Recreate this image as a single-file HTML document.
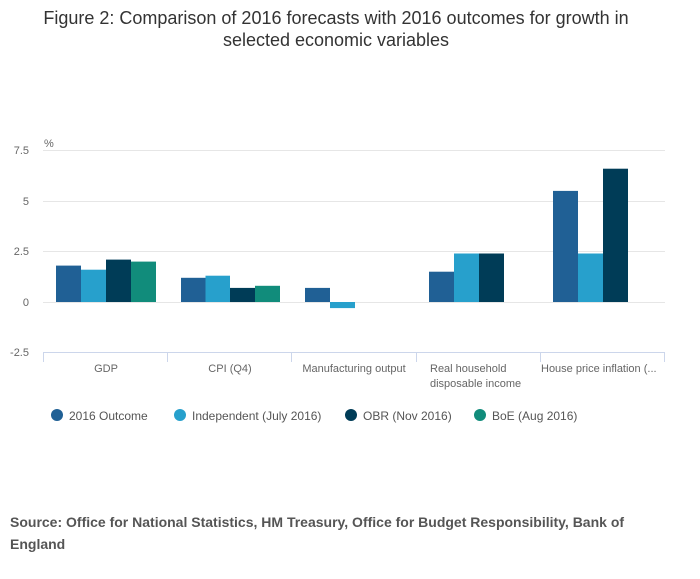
<!DOCTYPE html>
<html><head><meta charset="utf-8"><style>
body{margin:0;background:#fff;width:700px;height:574px;overflow:hidden;font-family:"Liberation Sans","DejaVu Sans",sans-serif;}
</style></head><body>
<svg width="700" height="574" xmlns="http://www.w3.org/2000/svg" font-family="Liberation Sans, DejaVu Sans, sans-serif">
<text x="336" y="24" text-anchor="middle" font-size="18" fill="#333">Figure 2: Comparison of 2016 forecasts with 2016 outcomes for growth in</text>
<text x="336" y="46" text-anchor="middle" font-size="18" fill="#333">selected economic variables</text>
<text x="44" y="147" font-size="11" fill="#666">%</text>
<g stroke="#e6e6e6" stroke-width="1">
<line x1="43" x2="665" y1="150.5" y2="150.5"/>
<line x1="43" x2="665" y1="201.5" y2="201.5"/>
<line x1="43" x2="665" y1="251.5" y2="251.5"/>
<line x1="43" x2="665" y1="302.5" y2="302.5"/>
</g>
<g font-size="11" fill="#666" text-anchor="end">
<text x="29" y="154">7.5</text><text x="29" y="205">5</text><text x="29" y="255">2.5</text><text x="29" y="306">0</text><text x="29" y="356">-2.5</text>
</g>
<g>
<rect x="56" y="265.6" width="25" height="36.4" fill="#206095"/>
<rect x="81" y="269.7" width="25" height="32.3" fill="#27a0cc"/>
<rect x="106" y="259.6" width="25" height="42.4" fill="#003c57"/>
<rect x="131" y="261.6" width="25" height="40.4" fill="#118c7b"/>
<rect x="181" y="277.8" width="24.5" height="24.2" fill="#206095"/>
<rect x="205.5" y="275.7" width="24.5" height="26.3" fill="#27a0cc"/>
<rect x="230" y="287.9" width="25" height="14.1" fill="#003c57"/>
<rect x="255" y="285.8" width="25" height="16.2" fill="#118c7b"/>
<rect x="305" y="287.9" width="25" height="14.1" fill="#206095"/>
<rect x="330" y="302" width="25" height="6.1" fill="#27a0cc"/>
<rect x="429" y="271.7" width="25" height="30.3" fill="#206095"/>
<rect x="454" y="253.5" width="25" height="48.5" fill="#27a0cc"/>
<rect x="479" y="253.5" width="25" height="48.5" fill="#003c57"/>
<rect x="553" y="190.9" width="25" height="111.1" fill="#206095"/>
<rect x="578" y="253.5" width="25" height="48.5" fill="#27a0cc"/>
<rect x="603" y="168.7" width="25" height="133.3" fill="#003c57"/>
</g>
<g stroke="#ccd6eb" stroke-width="1">
<line x1="43" x2="665" y1="352.5" y2="352.5"/>
<line x1="43.5" x2="43.5" y1="352" y2="362"/>
<line x1="167.5" x2="167.5" y1="352" y2="362"/>
<line x1="291.5" x2="291.5" y1="352" y2="362"/>
<line x1="416.5" x2="416.5" y1="352" y2="362"/>
<line x1="540.5" x2="540.5" y1="352" y2="362"/>
<line x1="664.5" x2="664.5" y1="352" y2="362"/>
</g>
<g font-size="11" fill="#666">
<text x="106" y="372" text-anchor="middle">GDP</text>
<text x="230" y="372" text-anchor="middle">CPI (Q4)</text>
<text x="354" y="372" text-anchor="middle">Manufacturing output</text>
<text x="430" y="372">Real household</text>
<text x="430" y="387">disposable income</text>
<text x="541" y="372">House price inflation (...</text>
</g>
<g font-size="12" fill="#555">
<circle cx="57" cy="415" r="6" fill="#206095"/><text x="69" y="420">2016 Outcome</text>
<circle cx="180" cy="415" r="6" fill="#27a0cc"/><text x="192" y="420">Independent (July 2016)</text>
<circle cx="351" cy="415" r="6" fill="#003c57"/><text x="363" y="420">OBR (Nov 2016)</text>
<circle cx="480" cy="415" r="6" fill="#118c7b"/><text x="492" y="420">BoE (Aug 2016)</text>
</g>
<g font-size="14" font-weight="bold" fill="#555">
<text x="10" y="527">Source: Office for National Statistics, HM Treasury, Office for Budget Responsibility, Bank of</text>
<text x="10" y="549">England</text>
</g>
</svg>
</body></html>
